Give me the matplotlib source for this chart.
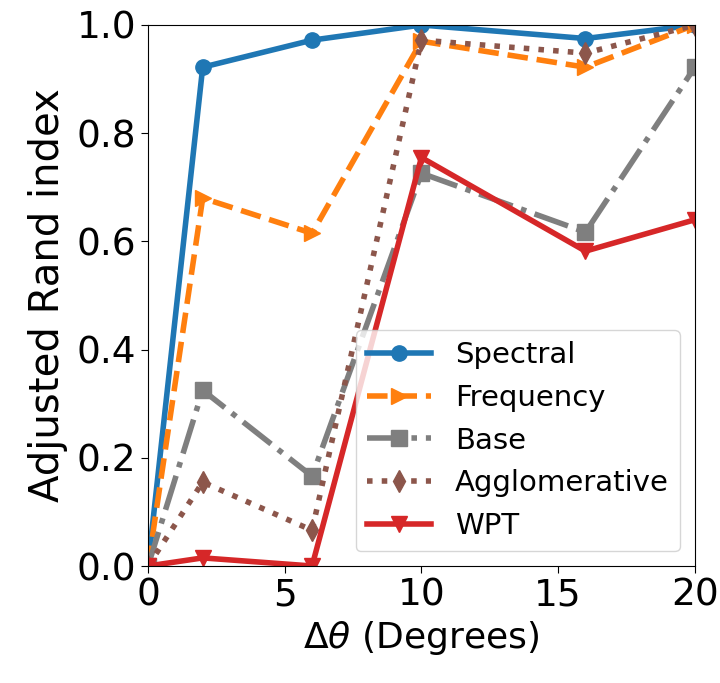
import matplotlib
matplotlib.use('Agg')
from matplotlib import pyplot as plt

delta_theta = [0, 2, 6, 10, 16, 20]

spectral = [0.0, 0.922, 0.972, 1.0, 0.975, 1.0]
frequency = [0.0, 0.68, 0.615, 0.97, 0.922, 1.0]
base = [0.0, 0.325, 0.166, 0.726, 0.617, 0.922]
agglomerative = [0.0, 0.155, 0.066, 0.972, 0.948, 1.0]
wpt = [0.0, 0.015, 0.0, 0.755, 0.582, 0.64]

series = [
    ('Spectral', spectral, 'tab:blue', '-', 'o'),
    ('Frequency', frequency, 'tab:orange', '--', '>'),
    ('Base', base, 'tab:gray', '-.', 's'),
    ('Agglomerative', agglomerative, 'tab:brown', ':', 'd'),
    ('WPT', wpt, 'tab:red', '-', 'v'),
]

fig = plt.figure(figsize=(7.2, 6.83), dpi=100)
ax = fig.add_axes([0.2056, 0.1713, 0.7594, 0.7921])

for name, vals, color, ls, marker in series:
    ax.plot(delta_theta, vals, color=color, linestyle=ls, marker=marker,
            linewidth=4, markersize=11, label=name)

ax.set_xlim(0, 20)
ax.set_ylim(0, 1)
ax.set_xticks([0, 5, 10, 15, 20])
ax.set_yticks([0.0, 0.2, 0.4, 0.6, 0.8, 1.0])
ax.tick_params(labelsize=27, length=5)
ax.set_xlabel(r'$\Delta\theta$ (Degrees)', fontsize=26, labelpad=4)
ax.set_ylabel('Adjusted Rand index', fontsize=29, labelpad=6)
ax.legend(loc='lower right', fontsize=21, handlelength=2.2)

fig.savefig('out.png', dpi=100)
